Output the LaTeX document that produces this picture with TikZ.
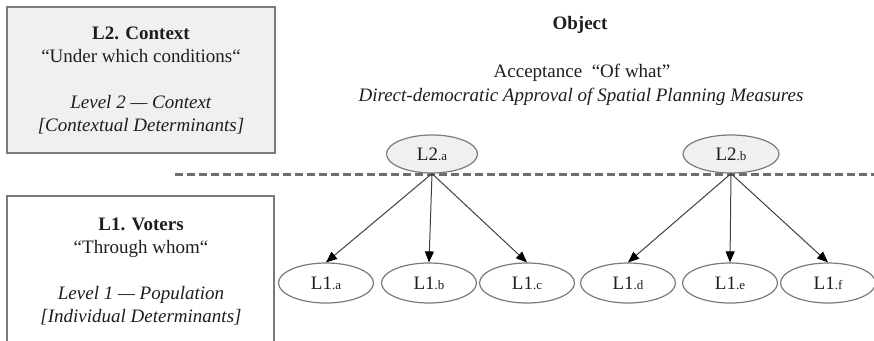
\documentclass[tikz,border=0pt]{standalone}
\usepackage{fontspec}
\setmainfont{Liberation Serif}
\usetikzlibrary{shapes.geometric,arrows.meta}
\definecolor{txt}{HTML}{1E1E1E}
\definecolor{edgegray}{HTML}{7A7A7A}
\definecolor{boxfill}{HTML}{F0F0F0}
\definecolor{dashgray}{HTML}{6E6E6E}
\newcommand{\lvlab}[2]{#1{\fontsize{13}{15}\selectfont.#2}}
\begin{document}
\begin{tikzpicture}[x=1pt,y=-1pt,
  font=\fontsize{19}{23}\selectfont, text=txt,
  panelbox/.style={draw=edgegray, line width=1.3pt},
  lvtwo/.style={ellipse, draw=edgegray, line width=1.2pt, fill=boxfill, minimum height=38pt, inner sep=0pt},
  lvone/.style={ellipse, draw=edgegray, line width=1.2pt, fill=white, minimum width=95pt, minimum height=40pt, inner sep=0pt},
  arr/.style={draw=black!75, line width=1pt, -{Triangle[length=11pt,width=9pt,color=black]}},
  dashline/.style={draw=dashgray, line width=2.4pt, dash pattern=on 8pt off 4pt},
  plain/.style={align=center, inner sep=0pt}
]
\useasboundingbox (0,0) rectangle (874,340);

% left panels
\node[panelbox, fill=boxfill, minimum width=268pt, minimum height=146pt, align=center, inner sep=0pt] (ctxbox) at (141,80)
  {\textbf{L2. Context}\\ “Under which conditions“\\[23pt] \textit{Level 2 — Context}\\ {\textit{[Contextual Determinants]}}};
\coordinate (vbl) at (7,342);
\coordinate (vtl) at (7,196);
\coordinate (vtr) at (274,196);
\coordinate (vbr) at (274,342);
\draw[panelbox] (vbl) -- (vtl) -- (vtr) -- (vbr);
\node[plain] (votertxt) at (141,271)
  {\textbf{L1. Voters}\\ “Through whom“\\[23pt] \textit{Level 1 — Population}\\ {\textit{[Individual Determinants]}}};

% object header
\node[plain] (objtitle) at (580,25) {\textbf{Object}};
\node[plain] (accept) at (582,73) {Acceptance \ “Of what”};
\node[plain] (approval) at (581,97) {\textit{Direct-democratic Approval of Spatial Planning Measures}};

% dashed separator
\coordinate (dashL) at (175,174.5);
\coordinate (dashR) at (874,174.5);
\draw[dashline] (dashL) -- (dashR);

% level 2 nodes
\node[lvtwo, minimum width=91pt] (L2a) at (432,154) {\lvlab{L2}{a}};
\node[lvtwo, minimum width=96pt] (L2b) at (731,154) {\lvlab{L2}{b}};

% level 1 nodes
\node[lvone] (L1a) at (326,283) {\lvlab{L1}{a}};
\node[lvone] (L1b) at (429,283) {\lvlab{L1}{b}};
\node[lvone] (L1c) at (527,283) {\lvlab{L1}{c}};
\node[lvone] (L1d) at (628,283) {\lvlab{L1}{d}};
\node[lvone] (L1e) at (730,283) {\lvlab{L1}{e}};
\node[lvone] (L1f) at (828,283) {\lvlab{L1}{f}};

% connectors
\draw[arr] (L2a.south) -- (L1a.north);
\draw[arr] (L2a.south) -- (L1b.north);
\draw[arr] (L2a.south) -- (L1c.north);
\draw[arr] (L2b.south) -- (L1d.north);
\draw[arr] (L2b.south) -- (L1e.north);
\draw[arr] (L2b.south) -- (L1f.north);
\end{tikzpicture}
\end{document}
